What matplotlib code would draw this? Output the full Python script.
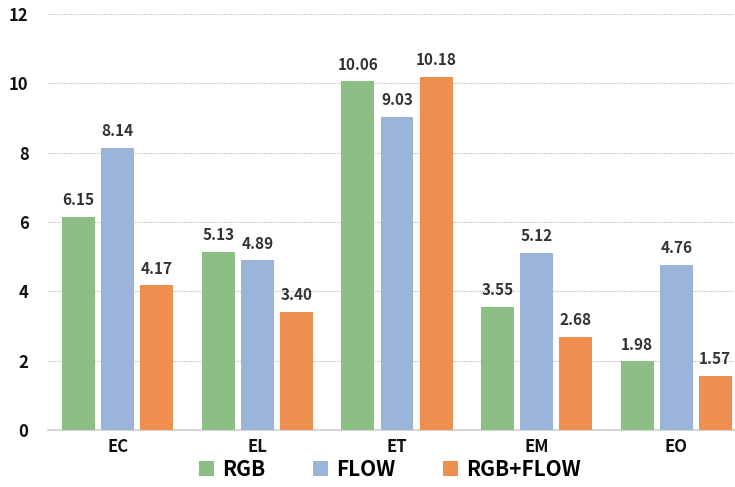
import matplotlib
matplotlib.use('Agg')
import matplotlib.pyplot as plt
import numpy as np

plt.rcParams['font.family'] = ['Noto Sans CJK SC', 'DejaVu Sans']

categories = ['EC', 'EL', 'ET', 'EM', 'EO']
rgb = [6.15, 5.13, 10.06, 3.55, 1.98]
flow = [8.14, 4.89, 9.03, 5.12, 4.76]
rgb_flow = [4.17, 3.40, 10.18, 2.68, 1.57]

series = [('RGB', rgb, '#8CBF84'), ('FLOW', flow, '#9BB4D9'), ('RGB+FLOW', rgb_flow, '#EE8F4F')]

fig = plt.figure(figsize=(7.35, 4.87), dpi=100)
ax = fig.add_axes([48 / 735, 57 / 487, 687 / 735, 416 / 487])

x = np.arange(len(categories))
width = 0.236
step = 0.28

handles = []
for i, (name, vals, color) in enumerate(series):
    pos = x + (i - 1) * step
    b = ax.bar(pos, vals, width, color=color, label=name, zorder=3)
    handles.append(b)
    for p, v in zip(pos, vals):
        ax.text(p, v + 0.25, f'{v:.2f}', ha='center', va='bottom', fontsize=11,
                fontweight='bold', color='#333333', zorder=4)

ax.set_xlim(-0.5, -0.5 + 687 / 139.6)
ax.set_ylim(0, 12)
ax.set_yticks(range(0, 13, 2))
ax.set_xticks(x)
ax.set_xticklabels(categories)
ax.yaxis.grid(True, linestyle=(0, (1, 1)), color='#BBBBBB', linewidth=0.8, zorder=0)
for s in ['left', 'right', 'top']:
    ax.spines[s].set_visible(False)
ax.spines['bottom'].set_color('#D0D0D0')
ax.spines['bottom'].set_linewidth(1.2)
ax.tick_params(axis='both', length=0, labelsize=12, colors='#111111')
ax.tick_params(axis='x', pad=6)
ax.tick_params(axis='y', pad=14)
for lab in ax.get_xticklabels() + ax.get_yticklabels():
    lab.set_fontweight('bold')

leg = fig.legend(handles=handles, loc='center', bbox_to_anchor=(390 / 735, 1 - 469 / 487),
                 ncol=3, frameon=False, prop={'size': 15, 'weight': 'bold'},
                 handlelength=0.7, handleheight=0.7, handletextpad=0.4, columnspacing=2.3,
                 borderpad=0.1)

fig.savefig('out.png', dpi=100)
